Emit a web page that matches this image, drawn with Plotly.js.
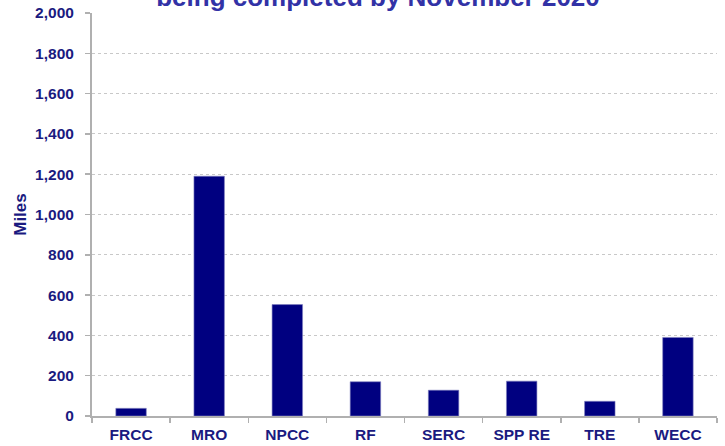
<!DOCTYPE html>
<html>
<head>
<meta charset="utf-8">
<script src="https://cdn.plot.ly/plotly-3.0.1.min.js"></script>
<style>html,body{margin:0;padding:0;background:#fff;}#chart{width:725px;height:446px;}</style>
</head>
<body>
<div id="chart"></div>
<script>
const regions = ["FRCC", "MRO", "NPCC", "RF", "SERC", "SPP RE", "TRE", "WECC"];
const miles = [38, 1190, 553, 170, 128, 173, 73, 390];
const yTickValues = [0, 200, 400, 600, 800, 1000, 1200, 1400, 1600, 1800, 2000];
const yTickLabels = ["0", "200", "400", "600", "800", "1,000", "1,200", "1,400", "1,600", "1,800", "2,000"];
const titleText = "being completed by November 2020";
const yTitle = "Miles";

const labelFont = {family: "Liberation Sans, Arial, sans-serif", size: 15.5, color: "#1a1a80", weight: 700};

const trace = {
  type: "bar",
  x: regions,
  y: miles,
  marker: {color: "#000080", line: {color: "#8080c0", width: 0.6}},
  hoverinfo: "x+y"
};

const layout = {
  width: 725,
  height: 446,
  margin: {l: 92, r: 8, t: 13, b: 30, pad: 0},
  paper_bgcolor: "#ffffff",
  plot_bgcolor: "#ffffff",
  bargap: 0.61,
  showlegend: false,
  title: {
    text: "<b>" + titleText + "</b>",
    font: {family: "Liberation Sans, Arial, sans-serif", size: 26, color: "#3232a6"},
    xref: "container", x: 0.5214, xanchor: "center",
    yref: "paper", y: 1, yanchor: "bottom",
    pad: {t: 0, b: 7, l: 0, r: 0}
  },
  xaxis: {
    type: "category",
    tickfont: labelFont,
    ticks: "outside",
    tickson: "boundaries",
    ticklen: 5,
    tickcolor: "#b0b0b0",
    tickwidth: 1.5,
    showline: true,
    linecolor: "#b0b0b0",
    linewidth: 1.5,
    showgrid: false,
    ticklabelstandoff: 4
  },
  yaxis: {
    range: [0, 2000],
    tickvals: yTickValues,
    ticktext: yTickLabels,
    tickfont: labelFont,
    ticks: "outside",
    ticklen: 5,
    tickcolor: "#b0b0b0",
    tickwidth: 1.5,
    showline: true,
    linecolor: "#b0b0b0",
    linewidth: 2,
    showgrid: true,
    gridcolor: "#c8c8c8",
    griddash: "dot",
    gridwidth: 1,
    zeroline: false,
    ticklabelstandoff: 8,
    title: {
      text: "<b>" + yTitle + "</b>",
      font: {family: "Liberation Sans, Arial, sans-serif", size: 17, color: "#1a1a80"},
      standoff: 4
    },
    automargin: false
  }
};

Plotly.newPlot("chart", [trace], layout, {displayModeBar: false, staticPlot: true});
</script>
</body>
</html>
